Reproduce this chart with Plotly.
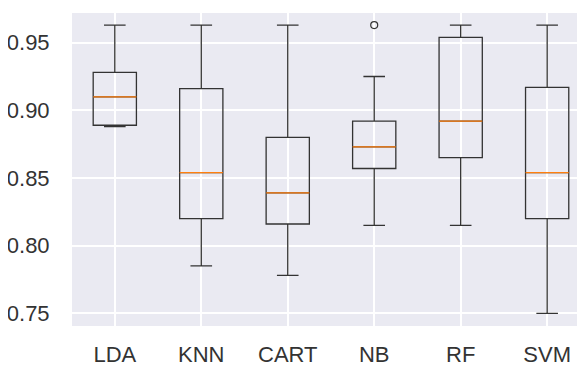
import plotly.graph_objects as go

models = ["LDA", "KNN", "CART", "NB", "RF", "SVM"]
positions = [1, 2, 3, 4, 5, 6]
lower = [0.888, 0.785, 0.778, 0.815, 0.815, 0.750]
q1 = [0.889, 0.820, 0.816, 0.857, 0.865, 0.820]
median = [0.910, 0.854, 0.839, 0.873, 0.892, 0.854]
q3 = [0.928, 0.916, 0.880, 0.892, 0.954, 0.917]
upper = [0.963, 0.963, 0.963, 0.925, 0.963, 0.963]
outlier_x = [4]
outlier_y = [0.963]
y_ticks = [0.75, 0.80, 0.85, 0.90, 0.95]

BOX_W = 0.5
fig = go.Figure()
fig.add_trace(go.Box(
    x=positions, q1=q1, median=median, q3=q3,
    lowerfence=lower, upperfence=upper,
    width=BOX_W, whiskerwidth=0.5,
    line=dict(color="#333333", width=1.3),
    fillcolor="rgba(0,0,0,0)", boxpoints=False, showlegend=False,
))
for p, m in zip(positions, median):
    fig.add_trace(go.Scatter(
        x=[p - BOX_W / 2, p + BOX_W / 2], y=[m, m], mode="lines",
        line=dict(color="#ff7f0e", width=1.3), showlegend=False, hoverinfo="skip",
    ))
fig.add_trace(go.Scatter(
    x=outlier_x, y=outlier_y, mode="markers",
    marker=dict(symbol="circle-open", size=7, color="#333333", line=dict(width=1.2)),
    showlegend=False,
))

# page body has an 8px margin, so the figure is sized/offset to compensate
font = dict(family="Liberation Sans, Arial, sans-serif", size=22, color="#333333")
fig.update_layout(
    width=590, height=359,
    margin=dict(l=64, r=0, t=5, b=41, autoexpand=False),
    paper_bgcolor="white", plot_bgcolor="#EAEAF2",
    font=font,
    xaxis=dict(range=[0.505, 6.588], tickvals=positions, ticktext=models,
               showgrid=True, gridcolor="white", gridwidth=2, zeroline=False,
               showline=False, ticks="outside", ticklen=9, tickcolor="rgba(0,0,0,0)",
               tickfont=font, automargin=False),
    yaxis=dict(range=[0.7406, 0.97195], tickvals=y_ticks,
               ticktext=[f"{v:.2f}" for v in y_ticks],
               showgrid=True, gridcolor="white", gridwidth=2, zeroline=False,
               showline=False, ticks="outside", ticklen=17, tickcolor="rgba(0,0,0,0)",
               tickfont=font, automargin=False),
)
fig.write_html("out.html")
